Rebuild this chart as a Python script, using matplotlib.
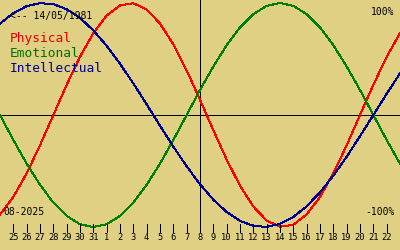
import matplotlib
matplotlib.use('Agg')
import matplotlib.pyplot as plt
import numpy as np

# Biorhythm values, one per day from 24/07/2025 to 23/08/2025
physical = [-0.888, -0.731, -0.520, -0.270, 0.000, 0.270, 0.520, 0.731, 0.888, 0.979,
            0.998, 0.942, 0.817, 0.631, 0.398, 0.136, -0.136, -0.398, -0.631, -0.817,
            -0.942, -0.998, -0.979, -0.888, -0.731, -0.520, -0.270, 0.000, 0.270, 0.520,
            0.731]
emotional = [0.000, -0.223, -0.434, -0.623, -0.782, -0.901, -0.975, -1.000, -0.975, -0.901,
             -0.782, -0.623, -0.434, -0.223, 0.000, 0.223, 0.434, 0.623, 0.782, 0.901,
             0.975, 1.000, 0.975, 0.901, 0.782, 0.623, 0.434, 0.223, 0.000, -0.223,
             -0.434]
intellectual = [0.815, 0.910, 0.972, 0.999, 0.990, 0.945, 0.866, 0.756, 0.618, 0.458,
                0.282, 0.095, -0.095, -0.282, -0.458, -0.618, -0.756, -0.866, -0.945, -0.990,
                -0.999, -0.972, -0.910, -0.815, -0.690, -0.541, -0.372, -0.189, 0.000, 0.189,
                0.372]

day_labels = ['25', '26', '27', '28', '29', '30', '31', '1', '2', '3', '4', '5', '6', '7',
              '8', '9', '10', '11', '12', '13', '14', '15', '16', '17', '18', '19', '20',
              '21', '22']
today_index = 15
birth_text = '<-- 14/05/1981'
month_text = '08-2025'
series_names = ['Physical', 'Emotional', 'Intellectual']

bg = '#e0d084'
colors = ['#ff0000', '#008000', '#000090']
text_colors = ['#e00000', '#007000', '#000090']
mono = 'DejaVu Sans Mono'
px = 0.72  # one pixel in points at 100 dpi

days = np.arange(len(physical))

fig = plt.figure(figsize=(4, 2.5), dpi=100)
fig.patch.set_facecolor(bg)
ax = fig.add_axes([0, 0, 1, 1])
ax.set_facecolor(bg)
ax.set_xlim(0, 30)
ax.set_ylim(-1.205, 1.027)
ax.axis('off')

# axes lines
ax.axhline(0, color='black', lw=px, antialiased=False)
ax.plot([today_index, today_index], [1.05, -1.01], color='black', lw=px, antialiased=False)

for vals, c in zip([physical, emotional, intellectual], colors):
    ax.plot(days, vals, color=c, lw=px, antialiased=False)

# day ticks along the bottom
for i, lab in enumerate(day_labels):
    x = i + 1
    ax.plot([x, x], [-0.975, -1.04], color='black', lw=px, antialiased=False)
    ax.text(x, -1.095, lab, ha='center', va='center', fontsize=6.3,
            family=mono, color='black')

# labels
ax.text(10 / 13.333, (115 - 16) / 112, birth_text, ha='left', va='center',
        fontsize=7, family=mono, color='black')
for k, (name, tc) in enumerate(zip(series_names, text_colors)):
    ax.text(10 / 13.333, (115 - 38 - 15 * k) / 112, name, ha='left', va='center',
            fontsize=9.3, family=mono, color=tc)

ax.text(394 / 13.333, (115 - 12) / 112, '100%', ha='right', va='center',
        fontsize=7, family=mono, color='black')
ax.text(395 / 13.333, (115 - 212) / 112, '-100%', ha='right', va='center',
        fontsize=7, family=mono, color='black')
ax.text(3 / 13.333, (115 - 212) / 112, month_text, ha='left', va='center',
        fontsize=7, family=mono, color='black')

fig.savefig('out.png', dpi=100, facecolor=bg)
